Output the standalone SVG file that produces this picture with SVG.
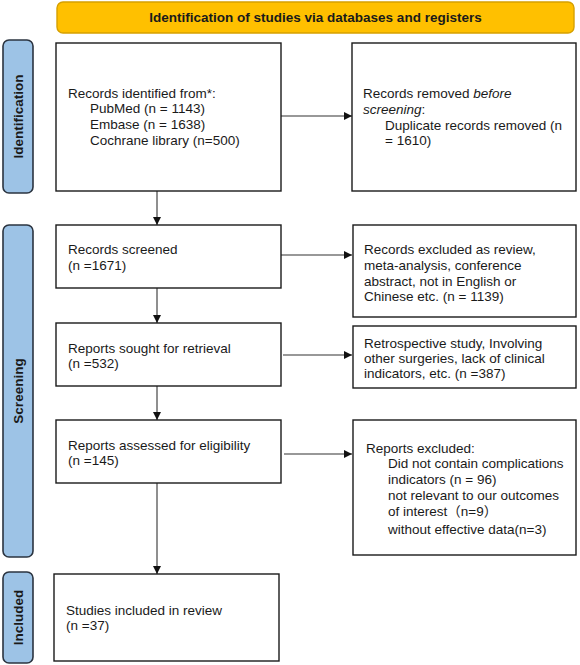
<svg xmlns="http://www.w3.org/2000/svg" width="580" height="665" viewBox="0 0 580 665">
<defs>
<style>
.t{font-family:"Liberation Sans","Noto Sans CJK SC",Arial,sans-serif;font-size:13.5px;fill:#1a1a1a}
.b{font-weight:bold}
.box{fill:#ffffff;stroke:#1a1a1a;stroke-width:1.4}
.side{fill:#9dc3e6;stroke:#2b3440;stroke-width:1.6}
.ban{fill:#ffc000;stroke:#d6a000;stroke-width:1.4}
.c{stroke:#333;stroke-width:1.1;fill:none;marker-end:url(#ah)}
</style>
<marker id="ah" viewBox="0 0 10 10" refX="10" refY="5" markerWidth="8" markerHeight="8" markerUnits="userSpaceOnUse" orient="auto">
<path d="M0,0 L10,5 L0,10 Z" fill="#111"/>
</marker>
</defs>
<rect width="580" height="665" fill="#ffffff"/>

<g id="banner">
<rect class="ban" x="57" y="2" width="517" height="31" rx="6"/>
<text class="t b" x="315.5" y="22" text-anchor="middle">Identification of studies via databases and registers</text>
</g>

<g id="side-identification">
<rect class="side" x="3" y="40" width="30" height="153" rx="6"/>
<text class="t b" transform="translate(23,116.5) rotate(-90)" text-anchor="middle">Identification</text>
</g>
<g id="side-screening">
<rect class="side" x="3" y="225" width="30" height="332" rx="6"/>
<text class="t b" transform="translate(23,391) rotate(-90)" text-anchor="middle">Screening</text>
</g>
<g id="side-included">
<rect class="side" x="3" y="572" width="30" height="91" rx="6"/>
<text class="t b" transform="translate(23,617.5) rotate(-90)" text-anchor="middle">Included</text>
</g>

<g id="connectors">
<line class="c" x1="281" y1="116" x2="352" y2="116"/>
<line class="c" x1="157" y1="191" x2="157" y2="225"/>
<line class="c" x1="281" y1="255" x2="352" y2="255"/>
<line class="c" x1="157" y1="288" x2="157" y2="323"/>
<line class="c" x1="283" y1="355" x2="352" y2="355"/>
<line class="c" x1="157" y1="386" x2="157" y2="420"/>
<line class="c" x1="284" y1="454" x2="352" y2="454"/>
<line class="c" x1="157" y1="483" x2="157" y2="574"/>
</g>

<g id="records-identified">
<rect class="box" x="56" y="43" width="225" height="148"/>
<text class="t" x="68" y="98">Records identified from*:</text>
<text class="t" x="90" y="113">PubMed (n = 1143)</text>
<text class="t" x="90" y="129">Embase (n = 1638)</text>
<text class="t" x="90" y="145">Cochrane library (n=500)</text>
</g>

<g id="records-removed">
<rect class="box" x="352" y="43" width="224" height="148"/>
<text class="t" x="363" y="98">Records removed <tspan font-style="italic">before</tspan></text>
<text class="t" x="363" y="114"><tspan font-style="italic">screening</tspan>:</text>
<text class="t" x="385" y="130">Duplicate records removed (n</text>
<text class="t" x="385" y="145">= 1610)</text>
</g>

<g id="records-screened">
<rect class="box" x="56" y="225" width="225" height="63"/>
<text class="t" x="68" y="254">Records screened</text>
<text class="t" x="68" y="270">(n =1671)</text>
</g>

<g id="records-excluded">
<rect class="box" x="353" y="225" width="223" height="92"/>
<text class="t" x="364" y="254">Records excluded as review,</text>
<text class="t" x="364" y="270">meta-analysis, conference</text>
<text class="t" x="364" y="286">abstract, not in English or</text>
<text class="t" x="364" y="301">Chinese etc. (n = 1139)</text>
</g>

<g id="reports-sought">
<rect class="box" x="56" y="323" width="225" height="63"/>
<text class="t" x="68" y="353">Reports sought for retrieval</text>
<text class="t" x="68" y="368">(n =532)</text>
</g>

<g id="reports-not-retrieved">
<rect class="box" x="353" y="326" width="223" height="62"/>
<text class="t" x="364" y="348">Retrospective study, Involving</text>
<text class="t" x="364" y="363">other surgeries, lack of clinical</text>
<text class="t" x="364" y="378">indicators, etc. (n =387)</text>
</g>

<g id="reports-assessed">
<rect class="box" x="56" y="420" width="225" height="63"/>
<text class="t" x="68" y="450">Reports assessed for eligibility</text>
<text class="t" x="68" y="465">(n =145)</text>
</g>

<g id="reports-excluded">
<rect class="box" x="353" y="420" width="223" height="135"/>
<text class="t" x="366" y="453">Reports excluded:</text>
<text class="t" x="388" y="468">Did not contain complications</text>
<text class="t" x="388" y="484">indicators (n = 96)</text>
<text class="t" x="388" y="500">not relevant to our outcomes</text>
<text class="t" x="388" y="516">of interest（n=9）</text>
<text class="t" x="388" y="534">without effective data(n=3)</text>
</g>

<g id="studies-included">
<rect class="box" x="54" y="574" width="225" height="87"/>
<text class="t" x="66" y="615">Studies included in review</text>
<text class="t" x="66" y="630">(n =37)</text>
</g>
</svg>
